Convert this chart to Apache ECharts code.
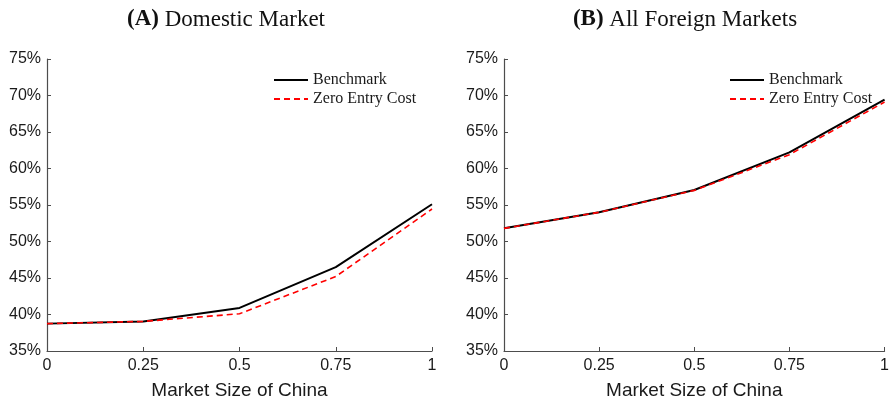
<!DOCTYPE html>
<html>
<head>
<meta charset="utf-8">
<script src="https://cdn.jsdelivr.net/npm/echarts@6/dist/echarts.min.js"></script>
<style>
  html, body { margin: 0; padding: 0; background: #fff; }
  #chart { width: 892px; height: 405px; }
</style>
</head>
<body>
<div id="chart"></div>
<script>
// Market size of China (x axis)
const marketSize = [0, 0.25, 0.5, 0.75, 1];

// Panel A: domestic market share (%)
const domesticBenchmark = [38.75, 39.05, 40.9, 46.5, 55.1];
const domesticZeroEntry = [38.75, 39.05, 40.1, 45.2, 54.45];

// Panel B: all foreign markets share (%)
const foreignBenchmark = [51.8, 54.0, 57.05, 62.2, 69.45];
const foreignZeroEntry = [51.8, 54.0, 57.0, 61.9, 69.1];

const panelTitles = ['Domestic Market', 'All Foreign Markets'];
const panelLetters = ['(A)', '(B)'];
const xAxisTitle = 'Market Size of China';
const seriesNames = ['Benchmark', 'Zero Entry Cost'];

const pair = (xs, ys) => xs.map((x, i) => [x, ys[i]]);

const axisColor = '#4d4d4d';
const sansFont = 'Liberation Sans, Arial, sans-serif';
const serifFont = 'Liberation Serif, DejaVu Serif, serif';

function xAxis(gridIndex) {
  return {
    type: 'value', gridIndex, min: 0, max: 1, interval: 0.25,
    name: xAxisTitle, nameLocation: 'middle', nameGap: 30,
    nameTextStyle: { fontFamily: sansFont, fontSize: 19, color: '#1a1a1a' },
    axisLine: { show: true, lineStyle: { color: axisColor, width: 1.2 } },
    axisTick: { show: true, inside: true, length: 4, lineStyle: { color: axisColor } },
    axisLabel: { fontFamily: sansFont, fontSize: 16, color: '#1a1a1a', margin: 7 },
    splitLine: { show: false }
  };
}
function yAxis(gridIndex) {
  return {
    type: 'value', gridIndex, min: 35, max: 75, interval: 5,
    axisLine: { show: true, lineStyle: { color: axisColor, width: 1.2 } },
    axisTick: { show: true, inside: true, length: 4, lineStyle: { color: axisColor } },
    axisLabel: { fontFamily: sansFont, fontSize: 16, color: '#1a1a1a', margin: 6, formatter: '{value}%' },
    splitLine: { show: false }
  };
}
function line(name, idx, data, dashed) {
  return {
    name: name + (idx ? ' ' : ''),
    type: 'line', xAxisIndex: idx, yAxisIndex: idx,
    data, symbol: 'none', silent: true, animation: false,
    z: dashed ? 3 : 2,
    lineStyle: dashed
      ? { color: '#ff0000', width: 1.6, type: [6, 4] }
      : { color: '#000', width: 2 },
    itemStyle: { color: dashed ? '#ff0000' : '#000' }
  };
}
function legend(idx, left) {
  return {
    top: 72, left, orient: 'vertical', padding: 0,
    itemWidth: 34, itemHeight: 12, itemGap: 3,
    itemStyle: { opacity: 0 },
    data: seriesNames.map(n => n + (idx ? ' ' : '')),
    textStyle: { fontFamily: serifFont, fontSize: 16, color: '#1a1a1a' },
    selectedMode: false
  };
}

const titleStyle = {
  fontFamily: serifFont, fontSize: 23, fontWeight: 'normal', color: '#111',
  rich: { b: { fontFamily: serifFont, fontSize: 23, fontWeight: 'bold', color: '#111' } }
};

const chart = echarts.init(document.getElementById('chart'), null, { renderer: 'canvas' });
chart.setOption({
  backgroundColor: '#fff',
  animation: false,
  title: [
    { text: '{b|' + panelLetters[0] + '} ' + panelTitles[0], left: 221, top: 3, textAlign: 'center', textStyle: titleStyle },
    { text: '{b|' + panelLetters[1] + '} ' + panelTitles[1], left: 680, top: 3, textAlign: 'center', textStyle: titleStyle }
  ],
  legend: [legend(0, 273), legend(1, 729)],
  grid: [
    { left: 47, right: 460, top: 59, bottom: 54 },
    { left: 504, right: 4, top: 59, bottom: 54 }
  ],
  xAxis: [xAxis(0), xAxis(1)],
  yAxis: [yAxis(0), yAxis(1)],
  series: [
    line(seriesNames[0], 0, pair(marketSize, domesticBenchmark), false),
    line(seriesNames[1], 0, pair(marketSize, domesticZeroEntry), true),
    line(seriesNames[0], 1, pair(marketSize, foreignBenchmark), false),
    line(seriesNames[1], 1, pair(marketSize, foreignZeroEntry), true)
  ]
});
</script>
</body>
</html>
